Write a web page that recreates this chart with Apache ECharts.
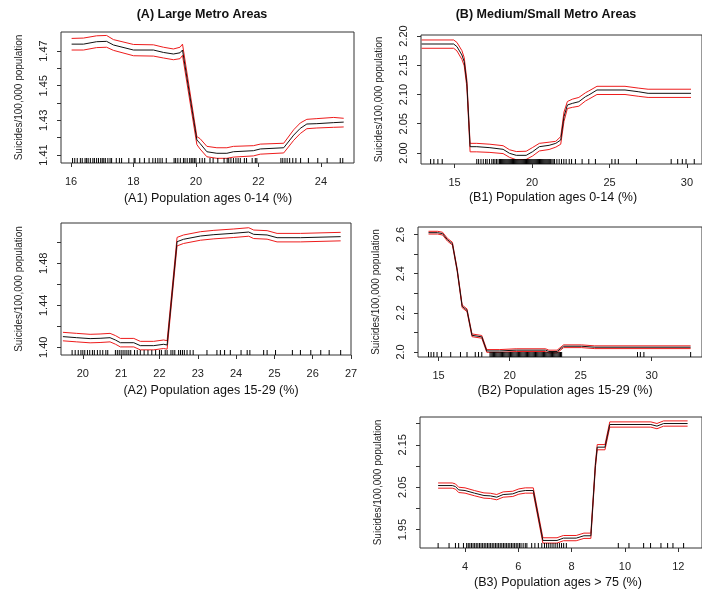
<!DOCTYPE html>
<html>
<head>
<meta charset="utf-8">
<script src="https://cdn.jsdelivr.net/npm/echarts@6/dist/echarts.min.js"></script>
<style>
  html, body { margin: 0; padding: 0; background: #fff; }
  #chart { width: 702px; height: 592px; }
</style>
</head>
<body>
<div id="chart"></div>
<script>
// ---- A1: Large metro, ages 0-14 ----
var a1X   = [16.02, 16.40, 16.82, 17.14, 17.36, 18.00, 18.64, 18.96, 19.28, 19.49, 19.57, 20.03, 20.13, 20.35, 20.67, 20.99, 21.20, 21.84, 22.06, 22.81, 23.13, 23.34, 23.55, 23.87, 24.41, 24.73];
var a1Mid = [1.4740, 1.4740, 1.4754, 1.4756, 1.4735, 1.4706, 1.4706, 1.4692, 1.4683, 1.4690, 1.4706, 1.4187, 1.4167, 1.4119, 1.4110, 1.4110, 1.4119, 1.4125, 1.4135, 1.4142, 1.4215, 1.4254, 1.4279, 1.4281, 1.4287, 1.4290];
var a1Hi  = [1.4773, 1.4775, 1.4788, 1.4790, 1.4766, 1.4738, 1.4736, 1.4722, 1.4712, 1.4722, 1.4740, 1.4206, 1.4195, 1.4150, 1.4142, 1.4142, 1.4150, 1.4154, 1.4163, 1.4168, 1.4246, 1.4285, 1.4306, 1.4310, 1.4317, 1.4312];
var a1Lo  = [1.4706, 1.4706, 1.4720, 1.4722, 1.4704, 1.4673, 1.4671, 1.4660, 1.4650, 1.4656, 1.4675, 1.4160, 1.4135, 1.4090, 1.4081, 1.4081, 1.4088, 1.4095, 1.4105, 1.4112, 1.4185, 1.4224, 1.4252, 1.4256, 1.4260, 1.4262];
var a1Rug = [16.05, 16.12, 16.2, 16.3, 16.36, 16.45, 16.5, 16.55, 16.62, 16.7, 16.75, 16.82, 16.88, 16.95, 17.0, 17.05, 17.1, 17.18, 17.25, 17.3, 17.45, 17.55, 17.62, 17.85, 18.02, 18.05, 18.2, 18.35, 18.5, 18.62, 18.7, 18.78, 18.85, 18.92, 19.05, 19.3, 19.35, 19.42, 19.5, 19.6, 19.65, 19.72, 19.8, 19.85, 19.9, 19.95, 20.0, 20.12, 20.2, 20.28, 20.45, 20.55, 20.7, 20.9, 21.0, 21.05, 21.12, 21.2, 21.28, 21.35, 21.42, 21.55, 21.62, 21.8, 21.9, 21.95, 22.72, 22.78, 22.85, 22.92, 23.0, 23.1, 23.2, 23.35, 23.6, 23.9, 24.2, 24.62, 24.7];
var a1XTicks = [16, 18, 20, 22, 24];
var a1YTicks = [1.41, 1.42, 1.43, 1.44, 1.45, 1.46, 1.47];
var a1YLabels = [1.41, 1.43, 1.45, 1.47];

// ---- A2: Large metro, ages 15-29 ----
var a2X   = [19.48, 19.84, 20.19, 20.45, 20.71, 20.85, 20.98, 21.33, 21.50, 21.85, 22.11, 22.20, 22.46, 22.63, 23.07, 23.42, 23.94, 24.33, 24.46, 24.81, 25.07, 25.68, 26.73];
var a2Mid = [1.4102, 1.4092, 1.4083, 1.4086, 1.4092, 1.4070, 1.4044, 1.4044, 1.4016, 1.4016, 1.4029, 1.4022, 1.5006, 1.5029, 1.5060, 1.5073, 1.5086, 1.5098, 1.5076, 1.5070, 1.5044, 1.5044, 1.5054];
var a2Hi  = [1.4143, 1.4133, 1.4124, 1.4127, 1.4133, 1.4112, 1.4085, 1.4085, 1.4057, 1.4057, 1.4070, 1.4063, 1.5047, 1.5070, 1.5101, 1.5114, 1.5127, 1.5139, 1.5117, 1.5111, 1.5085, 1.5085, 1.5095];
var a2Lo  = [1.4062, 1.4052, 1.4043, 1.4046, 1.4052, 1.4030, 1.4004, 1.4004, 1.3976, 1.3976, 1.3989, 1.3982, 1.4966, 1.4989, 1.5020, 1.5033, 1.5046, 1.5058, 1.5036, 1.5030, 1.5004, 1.5004, 1.5014];
var a2Rug = [19.72, 19.8, 19.88, 19.95, 20.0, 20.05, 20.12, 20.18, 20.25, 20.3, 20.38, 20.45, 20.52, 20.6, 20.65, 20.85, 20.9, 20.95, 21.0, 21.05, 21.1, 21.15, 21.2, 21.25, 21.35, 21.42, 21.5, 21.6, 21.7, 21.8, 21.9, 22.0, 22.05, 22.15, 22.2, 22.3, 22.35, 22.4, 22.5, 22.55, 22.6, 22.65, 22.72, 22.8, 22.88, 23.24, 23.5, 23.59, 23.7, 23.85, 24.13, 24.29, 24.36, 24.72, 24.81, 25.03, 25.47, 25.68, 25.95, 26.21, 26.43, 26.73];
var a2XTicks = [20, 21, 22, 23, 24, 25, 26, 27];
var a2YTicks = [1.40, 1.42, 1.44, 1.46, 1.48, 1.50];
var a2YLabels = [1.40, 1.44, 1.48];

// ---- B1: Medium/small metro, ages 0-14 ----
var b1X   = [12.87, 14.94, 15.15, 15.47, 15.62, 15.79, 16.00, 16.43, 17.28, 18.13, 18.55, 18.98, 19.62, 20.04, 20.47, 21.10, 21.53, 21.85, 22.06, 22.28, 22.60, 23.02, 23.45, 23.66, 24.19, 26.00, 26.85, 27.49, 30.26];
var b1Mid = [2.1863, 2.1863, 2.1818, 2.1675, 2.1560, 2.1190, 2.0108, 2.0108, 2.0091, 2.0063, 1.9994, 1.9960, 1.9960, 2.0023, 2.0108, 2.0131, 2.0165, 2.0222, 2.0620, 2.0820, 2.0848, 2.0877, 2.0963, 2.0991, 2.1077, 2.1077, 2.1048, 2.1020, 2.1020];
var b1Hi  = [2.1932, 2.1932, 2.1890, 2.1750, 2.1630, 2.1250, 2.0165, 2.0165, 2.0150, 2.0125, 2.0055, 2.0025, 2.0030, 2.0095, 2.0165, 2.0185, 2.0200, 2.0280, 2.0700, 2.0880, 2.0920, 2.0950, 2.1030, 2.1060, 2.1140, 2.1140, 2.1110, 2.1090, 2.1090];
var b1Lo  = [2.1790, 2.1790, 2.1745, 2.1600, 2.1490, 2.1130, 2.0020, 2.0020, 2.0010, 1.9990, 1.9925, 1.9885, 1.9890, 1.9950, 2.0035, 2.0060, 2.0100, 2.0150, 2.0540, 2.0760, 2.0780, 2.0800, 2.0890, 2.0920, 2.1000, 2.1000, 2.0970, 2.0950, 2.0950];
var b1Rug = [13.45, 13.66, 13.92, 14.2, 16.43, 16.55, 16.7, 16.85, 17.0, 17.1, 17.25, 17.4, 17.5, 17.6, 17.7, 17.8, 17.9, 17.96, 18.02, 18.08, 18.14, 18.2, 18.26, 18.32, 18.38, 18.44, 18.5, 18.56, 18.62, 18.68, 18.74, 18.8, 18.86, 18.92, 18.98, 19.04, 19.1, 19.16, 19.22, 19.28, 19.34, 19.4, 19.46, 19.52, 19.58, 19.64, 19.7, 19.76, 19.82, 19.88, 19.94, 20.0, 20.06, 20.12, 20.18, 20.24, 20.3, 20.36, 20.42, 20.48, 20.54, 20.6, 20.66, 20.72, 20.78, 20.84, 20.9, 20.96, 21.02, 21.08, 21.14, 21.2, 21.28, 21.36, 21.45, 21.6, 21.75, 21.9, 22.05, 22.2, 22.4, 22.55, 22.8, 23.23, 23.66, 24.09, 25.15, 25.36, 25.57, 26.74, 28.98, 29.4, 29.7, 29.94, 30.47];
var b1XTicks = [15, 20, 25, 30];
var b1YTicks = [2.00, 2.05, 2.10, 2.15, 2.20];
var b1YLabels = [2.00, 2.05, 2.10, 2.15, 2.20];

// ---- B2: Medium/small metro, ages 15-29 ----
var b2X   = [14.29, 14.93, 15.28, 15.62, 15.97, 16.31, 16.66, 17.00, 17.35, 18.04, 18.39, 19.31, 20.46, 22.53, 22.76, 23.34, 23.80, 25.07, 25.99, 32.74];
var b2Mid = [2.610, 2.610, 2.605, 2.574, 2.554, 2.418, 2.233, 2.213, 2.085, 2.077, 2.005, 2.005, 2.009, 2.009, 2.002, 2.002, 2.029, 2.029, 2.024, 2.024];
var b2Hi  = [2.617, 2.617, 2.612, 2.581, 2.561, 2.425, 2.240, 2.220, 2.092, 2.084, 2.012, 2.012, 2.016, 2.016, 2.009, 2.009, 2.036, 2.036, 2.031, 2.031];
var b2Lo  = [2.603, 2.603, 2.598, 2.567, 2.547, 2.411, 2.226, 2.206, 2.078, 2.070, 1.998, 1.998, 2.002, 2.002, 1.995, 1.995, 2.022, 2.022, 2.017, 2.017];
var b2Rug = [14.29, 14.47, 14.66, 14.89, 15.21, 15.85, 16.54, 17.0, 17.58, 17.81, 18.04, 18.62, 18.7, 18.78, 18.86, 18.94, 19.02, 19.1, 19.18, 19.26, 19.34, 19.42, 19.5, 19.58, 19.66, 19.74, 19.82, 19.9, 19.98, 20.06, 20.14, 20.22, 20.3, 20.38, 20.46, 20.54, 20.62, 20.7, 20.78, 20.86, 20.94, 21.02, 21.1, 21.18, 21.26, 21.34, 21.42, 21.5, 21.58, 21.66, 21.74, 21.82, 21.9, 21.98, 22.06, 22.14, 22.22, 22.3, 22.38, 22.46, 22.54, 22.62, 22.7, 22.78, 22.86, 22.94, 23.02, 23.1, 23.18, 23.26, 23.34, 23.42, 23.5, 23.58, 23.66, 29.0, 29.2, 29.45, 32.74];
var b2XTicks = [15, 20, 25, 30];
var b2YTicks = [2.0, 2.1, 2.2, 2.3, 2.4, 2.5, 2.6];
var b2YLabels = [2.0, 2.2, 2.4, 2.6];

// ---- B3: Medium/small metro, ages > 75 ----
var b3X   = [2.99, 3.52, 3.64, 3.76, 4.00, 4.36, 4.71, 4.95, 5.19, 5.43, 5.79, 6.02, 6.26, 6.56, 6.92, 7.45, 7.69, 8.17, 8.46, 8.72, 8.89, 8.96, 9.25, 9.43, 10.97, 11.20, 11.45, 12.35];
var b3Mid = [2.0539, 2.0539, 2.0516, 2.0437, 2.0422, 2.0359, 2.0304, 2.0296, 2.0265, 2.0327, 2.0343, 2.0398, 2.0422, 2.0422, 1.9245, 1.9245, 1.9300, 1.9300, 1.9355, 1.9355, 2.1013, 2.1444, 2.1444, 2.1978, 2.1978, 2.1940, 2.2001, 2.2001];
var b3Hi  = [2.0600, 2.0600, 2.0578, 2.0500, 2.0485, 2.0420, 2.0366, 2.0358, 2.0328, 2.0390, 2.0405, 2.0460, 2.0485, 2.0485, 1.9308, 1.9308, 1.9362, 1.9362, 1.9418, 1.9418, 2.1075, 2.1505, 2.1505, 2.2040, 2.2040, 2.2002, 2.2063, 2.2063];
var b3Lo  = [2.0477, 2.0477, 2.0455, 2.0375, 2.0360, 2.0297, 2.0242, 2.0234, 2.0203, 2.0265, 2.0281, 2.0336, 2.0360, 2.0360, 1.9183, 1.9183, 1.9238, 1.9238, 1.9293, 1.9293, 2.0951, 2.1382, 2.1382, 2.1916, 2.1916, 2.1878, 2.1939, 2.1939];
var b3Rug = [2.99, 3.4, 3.64, 3.76, 3.94, 4.06, 4.12, 4.18, 4.24, 4.3, 4.36, 4.42, 4.48, 4.54, 4.6, 4.66, 4.72, 4.78, 4.84, 4.9, 4.96, 5.02, 5.08, 5.14, 5.2, 5.26, 5.32, 5.38, 5.44, 5.5, 5.56, 5.62, 5.68, 5.74, 5.8, 5.86, 5.92, 5.98, 6.04, 6.1, 6.18, 6.26, 6.32, 6.5, 6.62, 6.75, 6.88, 6.98, 7.06, 7.14, 7.22, 7.3, 7.38, 7.46, 7.54, 7.62, 7.7, 7.8, 9.75, 10.15, 10.7, 10.96, 11.35, 11.6, 11.8, 12.2];
var b3XTicks = [4, 6, 8, 10, 12];
var b3YTicks = [1.95, 2.00, 2.05, 2.10, 2.15, 2.20];
var b3YLabels = [1.95, 2.05, 2.15];

// ---- layout ----
var FONT = 'Liberation Sans, Arial, Helvetica, sans-serif';
var panels = [
  { x: a1X, mid: a1Mid, hi: a1Hi, lo: a1Lo, rug: a1Rug, xt: a1XTicks, yt: a1YTicks, yl: a1YLabels, dec: 2,
    xmin: 15.68, xmax: 25.06, ymin: 1.4054, ymax: 1.4810, left: 61, top: 32, width: 293, height: 131 },
  { x: a2X, mid: a2Mid, hi: a2Hi, lo: a2Lo, rug: a2Rug, xt: a2XTicks, yt: a2YTicks, yl: a2YLabels, dec: 2,
    xmin: 19.43, xmax: 27.0, ymin: 1.3927, ymax: 1.5184, left: 61, top: 223, width: 290, height: 132 },
  { x: b1X, mid: b1Mid, hi: b1Hi, lo: b1Lo, rug: b1Rug, xt: b1XTicks, yt: b1YTicks, yl: b1YLabels, dec: 2,
    xmin: 12.83, xmax: 30.97, ymin: 1.9812, ymax: 2.2017, left: 421, top: 35, width: 284, height: 129 },
  { x: b2X, mid: b2Mid, hi: b2Hi, lo: b2Lo, rug: b2Rug, xt: b2XTicks, yt: b2YTicks, yl: b2YLabels, dec: 1,
    xmin: 13.55, xmax: 33.54, ymin: 1.974, ymax: 2.639, left: 418, top: 227, width: 288, height: 130 },
  { x: b3X, mid: b3Mid, hi: b3Hi, lo: b3Lo, rug: b3Rug, xt: b3XTicks, yt: b3YTicks, yl: b3YLabels, dec: 2,
    xmin: 2.31, xmax: 12.89, ymin: 1.9067, ymax: 2.2155, left: 420, top: 417, width: 297, height: 131 }
];

var grids = [], xAxes = [], yAxes = [], series = [];

panels.forEach(function (p, i) {
  grids.push({
    left: p.left, top: p.top, width: p.width, height: p.height,
    show: true, borderColor: '#333', borderWidth: 1, backgroundColor: 'transparent'
  });
  xAxes.push({
    gridIndex: i, type: 'value', min: p.xmin, max: p.xmax,
    axisLine: { show: false },
    axisTick: { show: true, length: 4, customValues: p.xt, lineStyle: { color: '#333' } },
    axisLabel: { customValues: p.xt, margin: 13, fontSize: 11, color: '#222', fontFamily: FONT,
      formatter: function (v) { return String(v); } },
    splitLine: { show: false }
  });
  yAxes.push({
    gridIndex: i, type: 'value', min: p.ymin, max: p.ymax,
    name: 'Suicides/100,000 population', nameLocation: 'middle', nameGap: 37, nameRotate: 90,
    nameTextStyle: { fontSize: 10, color: '#222', fontFamily: FONT },
    axisLine: { show: false },
    axisTick: { show: true, length: 4, customValues: p.yt, lineStyle: { color: '#333' } },
    axisLabel: { customValues: p.yt, rotate: 90, margin: 12, fontSize: 11, color: '#222', fontFamily: FONT,
      formatter: function (v) {
        var hit = p.yl.some(function (l) { return Math.abs(l - v) < 1e-6; });
        return hit ? v.toFixed(p.dec) : '';
      } },
    splitLine: { show: false }
  });
  var pair = function (ys) { return p.x.map(function (x, k) { return [x, ys[k]]; }); };
  [['lo', '#ee1c1c'], ['hi', '#ee1c1c'], ['mid', '#111']].forEach(function (s) {
    series.push({
      type: 'line', xAxisIndex: i, yAxisIndex: i, data: pair(p[s[0]]),
      showSymbol: false, symbol: 'none', silent: true,
      lineStyle: { color: s[1], width: 1 }, z: s[0] === 'mid' ? 4 : 3
    });
  });
  // rug marks along the bottom of each box
  series.push({
    type: 'scatter', xAxisIndex: i, yAxisIndex: i, silent: true, clip: false,
    data: p.rug.map(function (x) { return [x, p.ymin]; }),
    symbol: 'rect', symbolSize: [1, 5], symbolOffset: [0, -2.5],
    itemStyle: { color: '#000', opacity: 1 }, z: 5
  });
});

function label(text, x, y, size, bold) {
  return { type: 'text', x: x, y: y, silent: true,
    style: { text: text, align: 'center', verticalAlign: 'middle', fill: '#111',
      font: (bold ? 'bold ' : '') + size + 'px ' + FONT } };
}

var chart = echarts.init(document.getElementById('chart'), null, { renderer: 'canvas' });
chart.setOption({
  animation: false,
  backgroundColor: '#fff',
  grid: grids,
  xAxis: xAxes,
  yAxis: yAxes,
  series: series,
  graphic: [
    label('(A) Large Metro Areas', 202, 15, 12.5, true),
    label('(B) Medium/Small Metro Areas', 546, 15, 12.5, true),
    label('(A1) Population ages 0-14 (%)', 208, 199, 12.5),
    label('(B1) Population ages 0-14 (%)', 553, 198, 12.5),
    label('(A2) Population ages 15-29 (%)', 211, 391, 12.5),
    label('(B2) Population ages 15-29 (%)', 565, 391, 12.5),
    label('(B3) Population ages > 75 (%)', 558, 583, 12.5)
  ]
});
</script>
</body>
</html>
